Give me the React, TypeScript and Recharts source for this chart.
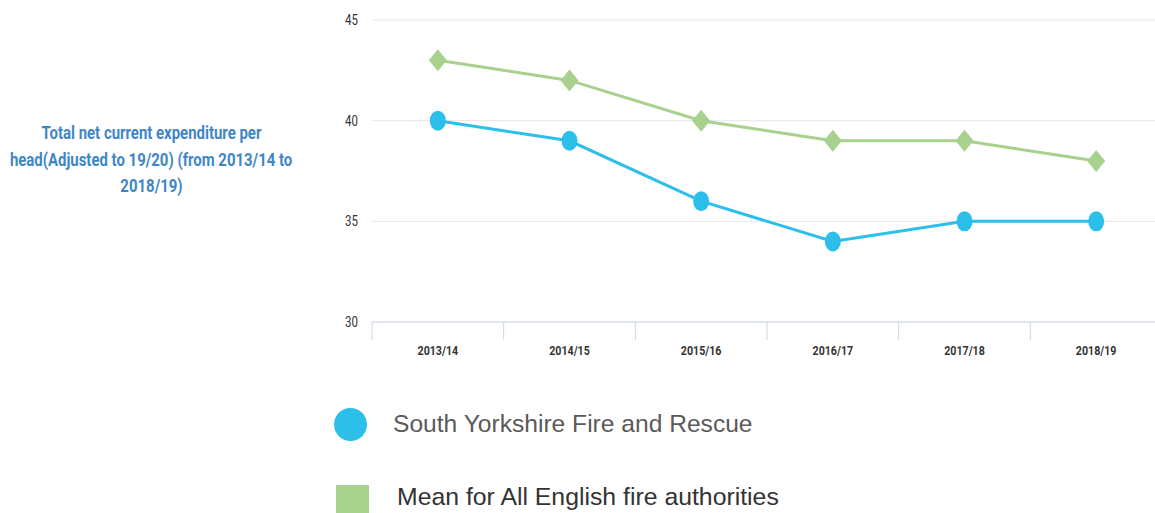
import React from 'react';
import { LineChart, Line, XAxis, YAxis, CartesianGrid } from 'recharts';

const years = ['2013/14', '2014/15', '2015/16', '2016/17', '2017/18', '2018/19'];
const southYorkshire = [40, 39, 36, 34, 35, 35];
const englishMean = [43, 42, 40, 39, 39, 38];
const yTicks = [30, 35, 40, 45];
const seriesNames = ['South Yorkshire Fire and Rescue', 'Mean for All English fire authorities'];
const titleLines = ['Total net current expenditure per', 'head(Adjusted to 19/20) (from 2013/14 to', '2018/19)'];

const data = years.map((year, i) => ({
  year,
  sy: southYorkshire[i],
  mean: englishMean[i],
}));

const BLUE = '#2bbfe9';
const GREEN = '#a9d18e';
const FONT = 'Roboto, "Liberation Sans", sans-serif';
const SQUEEZE = 0.82;

const CHART_W = 1170;
const MARGIN_L = 0;
const MARGIN_R = 8;
const Y_AXIS_W = 372;
const BAND = (CHART_W - MARGIN_L - MARGIN_R - Y_AXIS_W) / years.length;
const TICK_MARGIN = 16;

const BlueDot = (props: any) => {
  const { cx, cy } = props;
  if (cx == null || cy == null) return null;
  return <ellipse cx={cx} cy={cy} rx={8} ry={10} fill={BLUE} />;
};

const GreenDiamond = (props: any) => {
  const { cx, cy } = props;
  if (cx == null || cy == null) return null;
  return (
    <polygon
      points={`${cx},${cy - 11} ${cx + 9},${cy} ${cx},${cy + 11} ${cx - 9},${cy}`}
      fill={GREEN}
    />
  );
};

const XTick = (props: any) => {
  const { x, y, payload, index } = props;
  const axisY = y - 6 - TICK_MARGIN;
  const left = x - BAND / 2;
  return (
    <g>
      <line x1={left} y1={axisY} x2={left} y2={axisY + 18} stroke="#ccd6eb" />
      {index === years.length - 1 && (
        <line x1={x + BAND / 2} y1={axisY} x2={x + BAND / 2} y2={axisY + 18} stroke="#ccd6eb" />
      )}
      <text
        transform={`translate(${x},${axisY + 33}) scale(${SQUEEZE},1)`}
        textAnchor="middle"
        fill="#333"
        fontSize={13}
        fontWeight={700}
        fontFamily={FONT}
      >
        {payload.value}
      </text>
    </g>
  );
};

const YTick = (props: any) => {
  const { x, y, payload } = props;
  return (
    <text
      transform={`translate(${x},${y + 5}) scale(${SQUEEZE},1)`}
      textAnchor="end"
      fill="#333"
      fontSize={14}
      fontFamily={FONT}
    >
      {payload.value}
    </text>
  );
};

const App: React.FC = () => {
  return (
    <div style={{ position: 'absolute', left: 0, top: 0, width: 1155, height: 513, overflow: 'hidden', background: '#fff' }}>
      <div
        style={{
          position: 'absolute',
          left: -49,
          top: 120,
          width: 400,
          textAlign: 'center',
          color: '#3f86c8',
          fontFamily: FONT,
          fontWeight: 700,
          fontSize: 18,
          lineHeight: '26.5px',
          whiteSpace: 'nowrap',
        }}
      >
        {titleLines.map((l, i) => (
          <div key={i}>
            <span style={{ display: 'inline-block', transform: 'scaleX(0.83)' }}>{l}</span>
          </div>
        ))}
      </div>

      <div style={{ position: 'absolute', left: 0, top: 0 }}>
        <LineChart width={CHART_W} height={513} data={data} margin={{ top: 20, right: MARGIN_R, left: MARGIN_L, bottom: 151 }}>
          <CartesianGrid horizontal vertical={false} stroke="#e6e6e6" />
          <XAxis
            dataKey="year"
            height={40}
            padding={{ left: BAND / 2, right: BAND / 2 }}
            tickLine={false}
            axisLine={{ stroke: '#ccd6eb' }}
            tickMargin={TICK_MARGIN}
            tick={<XTick />}
            interval={0}
          />
          <YAxis
            width={Y_AXIS_W}
            domain={[30, 45]}
            ticks={yTicks}
            axisLine={false}
            tickLine={false}
            tickMargin={8}
            tick={<YTick />}
          />
          <Line
            dataKey="mean"
            name={seriesNames[1]}
            stroke={GREEN}
            strokeWidth={3}
            dot={<GreenDiamond />}
            activeDot={false}
            isAnimationActive={false}
          />
          <Line
            dataKey="sy"
            name={seriesNames[0]}
            stroke={BLUE}
            strokeWidth={3}
            dot={<BlueDot />}
            activeDot={false}
            isAnimationActive={false}
          />
        </LineChart>
      </div>

      <div style={{ position: 'absolute', left: 334, top: 408, width: 33, height: 33, borderRadius: '50%', background: BLUE }} />
      <div
        style={{
          position: 'absolute',
          left: 393,
          top: 409,
          fontFamily: '"Liberation Sans", Arial, sans-serif',
          fontSize: 24.6,
          lineHeight: '30px',
          color: '#5a5a5a',
        }}
      >
        {seriesNames[0]}
      </div>
      <div style={{ position: 'absolute', left: 336, top: 485, width: 33, height: 33, background: GREEN }} />
      <div
        style={{
          position: 'absolute',
          left: 397,
          top: 482,
          fontFamily: '"Liberation Sans", Arial, sans-serif',
          fontSize: 24.8,
          lineHeight: '30px',
          color: '#333',
        }}
      >
        {seriesNames[1]}
      </div>
    </div>
  );
};

export default App;
